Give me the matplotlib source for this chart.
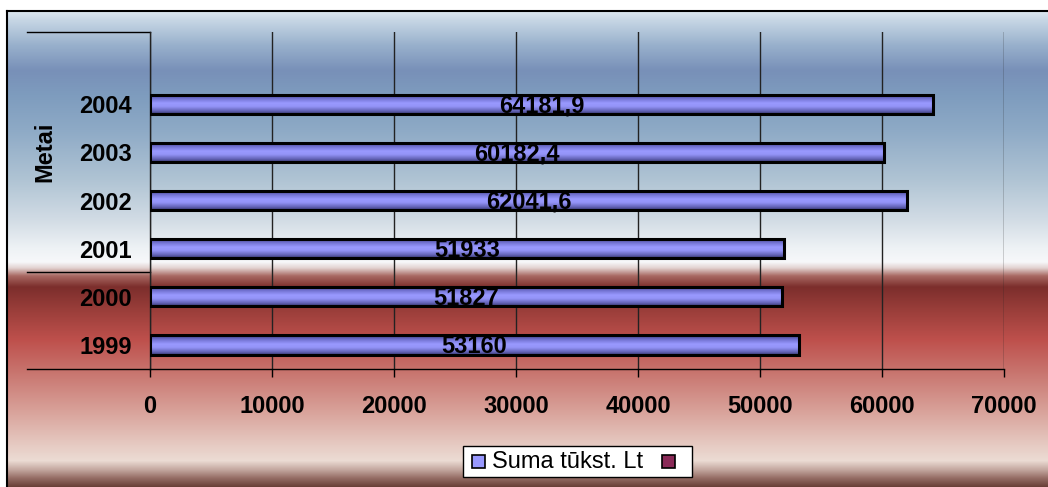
import numpy as np
import matplotlib
matplotlib.use("Agg")
import matplotlib.pyplot as plt
from matplotlib.colors import LinearSegmentedColormap, to_rgb
from matplotlib.patches import Rectangle
from matplotlib.lines import Line2D

# ---------------- data ----------------
years = ["1999", "2000", "2001", "2002", "2003", "2004"]
values = [53160, 51827, 51933, 62041.6, 60182.4, 64181.9]
x_ticks = [0, 10000, 20000, 30000, 40000, 50000, 60000, 70000]
series_label = "Suma tūkst. Lt"
axis_title = "Metai"

W, H = 1048, 487
DPI = 100
FS = 17
plt.rcParams['font.family'] = ['Liberation Sans', 'DejaVu Sans']

fig = plt.figure(figsize=(W / DPI, H / DPI), dpi=DPI)
fig.patch.set_facecolor('white')

def fx(px):
    return px / W

def fy(py):
    return 1 - py / H

# ---------------- background gradient ----------------
stops = [
    (11, '#dde8f0'), (20, '#c6d6e4'), (45, '#98b0cc'), (70, '#7890b8'),
    (95, '#7e9cbe'), (130, '#8eaac6'), (180, '#b0c4d4'), (220, '#d2dce5'),
    (248, '#eef2f5'), (262, '#f7f8fa'), (268, '#e2d2d0'), (276, '#a86862'),
    (287, '#7c2e2c'), (310, '#9a3e3a'), (340, '#be504c'), (372, '#c8746e'),
    (410, '#d8a098'), (445, '#e6cac2'), (461, '#ecdcd4'), (470, '#c4a8a0'),
    (478, '#987068'), (487, '#6a4038'),
]
ys = np.arange(11, 488)
sy = np.array([s[0] for s in stops], dtype=float)
cols = np.array([to_rgb(s[1]) for s in stops])
grad = np.stack([np.interp(ys, sy, cols[:, i]) for i in range(3)], axis=1)
img = np.repeat(grad[:, None, :], 2, axis=1)

bg = fig.add_axes([0, 0, 1, 1], zorder=-10)
bg.axis('off')
bg.imshow(img, extent=(7, W, 487, 11), aspect='auto', interpolation='bilinear')
bg.set_xlim(0, W)
bg.set_ylim(H, 0)
bg.add_line(Line2D([7, 7], [11, H], color='black', lw=1.5))
bg.add_line(Line2D([7, W], [11, 11], color='black', lw=1.5))

# ---------------- main axes ----------------
ax_left, ax_right, ax_top, ax_bottom = 150, 1004, 32, 369
ax = fig.add_axes([fx(ax_left), fy(ax_bottom), fx(ax_right - ax_left),
                   (ax_bottom - ax_top) / H])
ax.set_facecolor('none')

pos = np.arange(len(years))
bar_h = 0.40
bars = ax.barh(pos, values, height=bar_h, color='#9999ff', edgecolor='none', zorder=3)

bar_cmap = LinearSegmentedColormap.from_list('bar', [
    (0.0, '#3a3a78'), (0.2, '#6e6ecc'), (0.45, '#9999ff'),
    (0.62, '#9494f8'), (0.85, '#6464b8'), (1.0, '#3a3a70')])
gimg = np.linspace(0, 1, 64)[:, None]
for b in bars:
    x0, y0 = b.get_x(), b.get_y()
    w, h = b.get_width(), b.get_height()
    im = ax.imshow(gimg, cmap=bar_cmap, extent=(x0, x0 + w, y0, y0 + h),
                   aspect='auto', interpolation='bilinear', zorder=3.5,
                   origin='upper')
    im.set_clip_path(b)

ax.barh(pos, values, height=bar_h, facecolor='none', edgecolor='black',
        lw=2.2, zorder=4)

labels = [f"{v:g}".replace('.', ',') for v in values]
for p, v, lab in zip(pos, values, labels):
    ax.text(v / 2, p - 0.03, lab, ha='center', va='center',
            fontsize=FS, fontweight='bold', color='black', zorder=5)

ax.set_xlim(0, 70000)
ax.set_ylim(-0.5, 6.5)
ax.set_xticks(x_ticks)
ax.set_xticklabels([str(t) for t in x_ticks], fontsize=FS, fontweight='bold')
ax.set_yticks(pos)
ax.set_yticklabels(years, fontsize=FS, fontweight='bold')
ax.tick_params(axis='x', length=6, width=1, direction='out', pad=13, colors='black')
ax.tick_params(axis='y', length=0, pad=13)
ax.xaxis.grid(True, color='#222222', lw=1)
ax.set_axisbelow(True)
for s in ['top', 'right']:
    ax.spines[s].set_visible(False)
ax.spines['left'].set_color('#222222')
ax.spines['bottom'].set_color('black')
ax.spines['left'].set_linewidth(1)
ax.spines['bottom'].set_linewidth(1)

# wall edge lines to the left of the plot area
wx0 = (27 - ax_left) / (ax_right - ax_left)
for yy in [1.0, (ax_bottom - 272) / (ax_bottom - ax_top), 0.0]:
    ax.add_line(Line2D([wx0, 0], [yy, yy], transform=ax.transAxes,
                       color='black', lw=1, clip_on=False))

fig.text(fx(45), fy(152), axis_title, rotation=90, ha='center', va='center',
         fontsize=FS, fontweight='bold')

# ---------------- legend ----------------
bg.add_patch(Rectangle((463, 446), 229, 31, facecolor='white',
                       edgecolor='black', lw=1, zorder=5))
bg.add_patch(Rectangle((472, 455), 13, 13, facecolor='#9999ff',
                       edgecolor='black', lw=1.2, zorder=6))
bg.add_patch(Rectangle((662, 455), 13, 13, facecolor='#8a2a58',
                       edgecolor='black', lw=1.2, zorder=6))
bg.text(492, 462, series_label, ha='left', va='center', fontsize=FS,
        color='black', zorder=7)

fig.savefig('out.png', dpi=DPI)
